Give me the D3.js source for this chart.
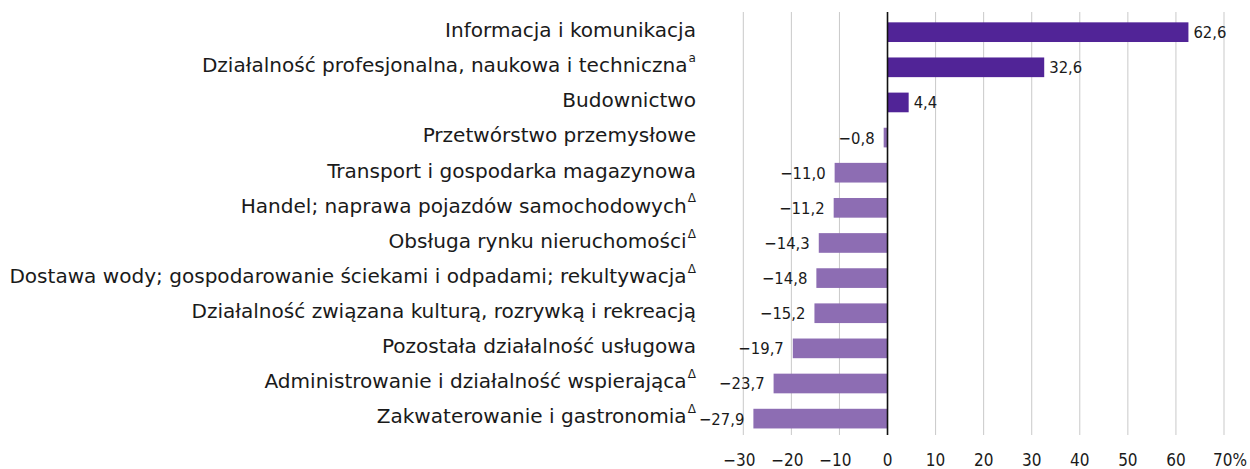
<!DOCTYPE html>
<html>
<head>
<meta charset="utf-8">
<script src="https://cdn.jsdelivr.net/npm/d3@7"></script>
<style>
  html, body { margin: 0; padding: 0; background: #fff; }
  svg { display: block; }
</style>
</head>
<body>
<svg id="chart" width="1250" height="469"></svg>
<script>
const categories = [
  "Informacja i komunikacja",
  "Działalność profesjonalna, naukowa i techniczna",
  "Budownictwo",
  "Przetwórstwo przemysłowe",
  "Transport i gospodarka magazynowa",
  "Handel; naprawa pojazdów samochodowych",
  "Obsługa rynku nieruchomości",
  "Dostawa wody; gospodarowanie ściekami i odpadami; rekultywacja",
  "Działalność związana kulturą, rozrywką i rekreacją",
  "Pozostała działalność usługowa",
  "Administrowanie i działalność wspierająca",
  "Zakwaterowanie i gastronomia"
];
const notes = ["", "a", "", "", "", "Δ", "Δ", "Δ", "", "", "Δ", "Δ"];
const values = [62.6, 32.6, 4.4, -0.8, -11.0, -11.2, -14.3, -14.8, -15.2, -19.7, -23.7, -27.9];
const tickValues = [-30, -20, -10, 0, 10, 20, 30, 40, 50, 60, 70];

const FONT = "'DejaVu Sans Condensed', 'DejaVu Sans', sans-serif";
const svg = d3.select("#chart");

const x = d3.scaleLinear().domain([-30, 70]).range([743.3, 1224]);
const gridTop = 12, gridBottom = 435;
const y = d3.scaleBand().domain(categories).range([11.8, 439]).paddingInner(0.44).paddingOuter(0.3);

// gridlines
svg.append("g").selectAll("line").data(tickValues.filter(d => d !== 0)).join("line")
  .attr("x1", d => x(d)).attr("x2", d => x(d))
  .attr("y1", gridTop).attr("y2", gridBottom)
  .attr("stroke", "#c9c9c9").attr("stroke-width", 1);

// bars
svg.append("g").selectAll("rect").data(values).join("rect")
  .attr("x", d => x(Math.min(0, d)))
  .attr("width", d => Math.abs(x(d) - x(0)))
  .attr("y", (d, i) => y(categories[i]))
  .attr("height", y.bandwidth())
  .attr("fill", d => d >= 0 ? "#512497" : "#8d6db3");

// zero axis
svg.append("line")
  .attr("x1", x(0)).attr("x2", x(0)).attr("y1", gridTop).attr("y2", gridBottom)
  .attr("stroke", "#111").attr("stroke-width", 1.6);

const fmt = v => (v < 0 ? "−" : "") + Math.abs(v).toFixed(1).replace(".", ",");

// value labels
svg.append("g").selectAll("text").data(values).join("text")
  .attr("x", d => d >= 0 ? x(d) + 5 : x(d) - 9)
  .attr("y", (d, i) => y(categories[i]) + y.bandwidth() / 2)
  .attr("dy", "0.36em")
  .attr("text-anchor", d => d >= 0 ? "start" : "end")
  .attr("font-family", FONT).attr("font-stretch", "condensed")
  .attr("font-size", 16.5).attr("fill", "#1a1a1a")
  .text(fmt);

// category labels, fitted horizontally so the longest spans the reference width
const labelG = svg.append("g");
const labels = labelG.selectAll("text").data(categories).join("text")
  .attr("x", 0).attr("y", 0)
  .attr("dy", "0.24em")
  .attr("text-anchor", "end")
  .attr("font-family", FONT).attr("font-stretch", "condensed")
  .attr("font-size", 20).attr("fill", "#1a1a1a");
labels.append("tspan").text(d => d);
labels.append("tspan")
  .attr("font-size", 12).attr("dy", "-0.85em").attr("dx", 1)
  .text((d, i) => notes[i]);

const longest = labels.nodes()[7];
const w = longest.getComputedTextLength();
const k = 686 / w;
labels.attr("transform", d => `translate(696,${y(d) + y.bandwidth() / 2}) scale(${k},1)`);

// x axis tick labels
svg.append("g").selectAll("text").data(tickValues).join("text")
  .attr("x", d => x(d))
  .attr("dx", d => d === 70 ? 6 : (d < 0 ? -4 : 0))
  .attr("y", 466)
  .attr("text-anchor", "middle")
  .attr("font-family", FONT).attr("font-stretch", "condensed")
  .attr("font-size", 17).attr("fill", "#1a1a1a")
  .text(d => (d < 0 ? "−" + Math.abs(d) : d) + (d === 70 ? "%" : ""));
</script>
</body>
</html>
